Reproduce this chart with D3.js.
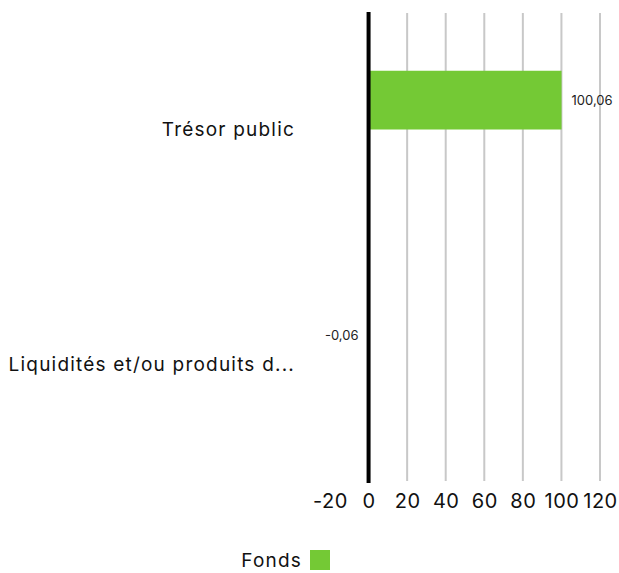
<!DOCTYPE html>
<html>
<head>
<meta charset="utf-8">
<script src="https://cdn.jsdelivr.net/npm/d3@7"></script>
<style>
  body { margin: 0; background: #fff; font-family: Inter, "Noto Sans", sans-serif; }
  svg { display: block; }
</style>
</head>
<body>
<div id="chart"></div>
<script>
const categories = ["Trésor public", "Liquidités et/ou produits d..."]
const fondsValues = [100.06, -0.06]
const valueLabels = ["100,06", "-0,06"]
const xTicks = [-20, 0, 20, 40, 60, 80, 100, 120]
const seriesName = "Fonds"

const W = 619, H = 573
const margin = { top: 12, right: 19, bottom: 91, left: 330 }
const width = W - margin.left - margin.right
const height = H - margin.top - margin.bottom
const green = "#74c935"

const svg = d3.select("#chart").append("svg")
  .attr("width", W)
  .attr("height", H)

const g = svg.append("g")
  .attr("transform", "translate(" + margin.left + "," + margin.top + ")")

const x = d3.scaleLinear().domain([-20, 120]).range([0, width])
const y0 = d3.scaleBand().domain(categories).range([0, height])
// two slots per category, fund bar sits in the first one
const y1 = d3.scaleBand().domain([0, 1]).range([0, y0.bandwidth()]).paddingOuter(1)

// grid lines
g.selectAll("line.grid")
  .data(xTicks.filter(t => t > 0))
  .enter().append("line")
  .attr("class", "grid")
  .attr("x1", d => x(d)).attr("x2", d => x(d))
  .attr("y1", 1).attr("y2", height - 1)
  .attr("stroke", "#c8c8c8")
  .attr("stroke-width", 2)

// bars
g.selectAll("rect.bar")
  .data(fondsValues)
  .enter().append("rect")
  .attr("class", "bar")
  .attr("x", d => x(Math.min(0, d)))
  .attr("width", d => Math.abs(x(d) - x(0)))
  .attr("y", (d, i) => y0(categories[i]) + y1(0))
  .attr("height", y1.bandwidth())
  .attr("fill", green)

// value labels
g.selectAll("text.val")
  .data(fondsValues)
  .enter().append("text")
  .attr("class", "val")
  .attr("x", d => d >= 0 ? x(d) + 10 : x(d) - 10)
  .attr("y", (d, i) => y0(categories[i]) + y1(0) + y1.bandwidth() / 2)
  .attr("dy", "0.35em")
  .attr("text-anchor", d => d >= 0 ? "start" : "end")
  .style("font-size", "13px")
  .attr("fill", "#222")
  .text((d, i) => valueLabels[i])

// zero line
g.append("line")
  .attr("x1", x(0)).attr("x2", x(0))
  .attr("y1", 0).attr("y2", height + 1)
  .attr("stroke", "#000")
  .attr("stroke-width", 4)

// x axis
const xAxis = g.append("g")
  .attr("transform", "translate(0," + height + ")")
  .call(d3.axisBottom(x).tickValues(xTicks).tickSize(0).tickPadding(12).tickFormat(d => String(d)))
xAxis.select(".domain").remove()
xAxis.selectAll("text")
  .style("font-size", "20px")
  .style("font-family", "Inter, 'Noto Sans', sans-serif")
  .style("letter-spacing", "0.5px")
  .attr("fill", "#111")

// category labels
g.selectAll("text.cat")
  .data(categories)
  .enter().append("text")
  .attr("class", "cat")
  .attr("x", -35)
  .attr("y", d => y0(d) + y0.bandwidth() / 2)
  .attr("dy", "0.35em")
  .attr("text-anchor", "end")
  .style("font-size", "19px")
  .style("letter-spacing", "1.2px")
  .attr("fill", "#111")
  .text(d => d)

// legend
svg.append("text")
  .attr("x", 302)
  .attr("y", 560)
  .attr("dy", "0.35em")
  .attr("text-anchor", "end")
  .style("font-size", "19px")
  .style("letter-spacing", "1.2px")
  .attr("fill", "#111")
  .text(seriesName)
svg.append("rect")
  .attr("x", 310).attr("y", 550)
  .attr("width", 20).attr("height", 20)
  .attr("fill", green)
</script>
</body>
</html>
